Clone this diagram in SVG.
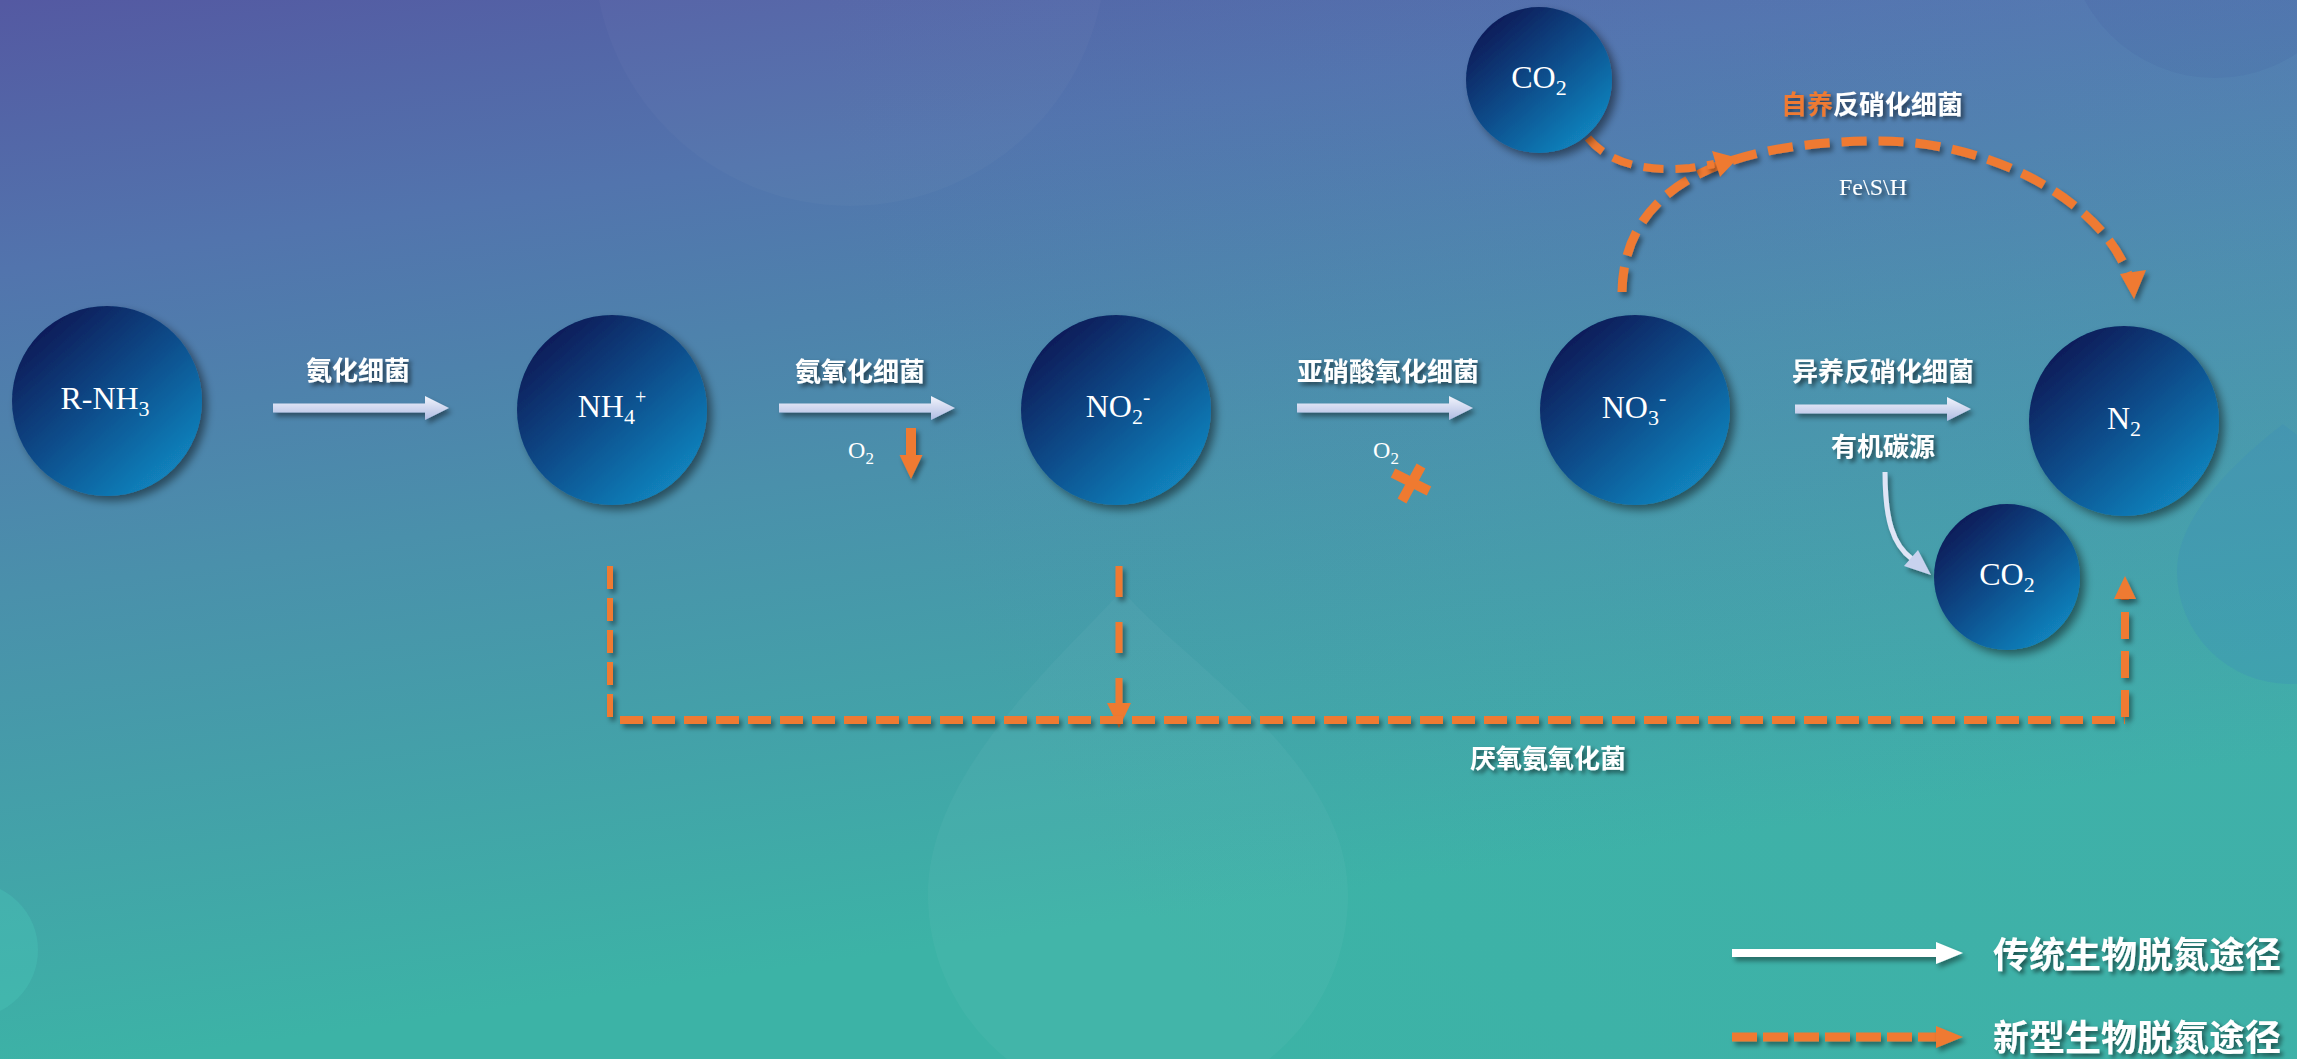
<svg xmlns="http://www.w3.org/2000/svg" width="2297" height="1059" viewBox="0 0 2297 1059">
<defs>
  <linearGradient id="bg" gradientUnits="userSpaceOnUse" x1="0" y1="0" x2="150" y2="1059">
    <stop offset="0" stop-color="#5459a2"/>
    <stop offset="0.25" stop-color="#5274ad"/>
    <stop offset="0.55" stop-color="#4a90ab"/>
    <stop offset="1" stop-color="#3cb3a6"/>
  </linearGradient>
  <radialGradient id="bgR" gradientUnits="userSpaceOnUse" cx="2297" cy="0" r="1500">
    <stop offset="0" stop-color="#6a8ad0" stop-opacity="0.14"/>
    <stop offset="1" stop-color="#6a8ad0" stop-opacity="0"/>
  </radialGradient>
  <linearGradient id="ball" x1="0.15" y1="0.1" x2="0.85" y2="0.9">
    <stop offset="0" stop-color="#071a57"/>
    <stop offset="0.5" stop-color="#0d4e8c"/>
    <stop offset="1" stop-color="#1285bf"/>
  </linearGradient>
  <linearGradient id="light" x1="0" y1="0" x2="0" y2="1">
    <stop offset="0" stop-color="#f2f4fc"/>
    <stop offset="1" stop-color="#aebbe2"/>
  </linearGradient>
  <filter id="sh" x="-20%" y="-20%" width="150%" height="150%">
    <feDropShadow dx="5" dy="5" stdDeviation="4" flood-color="#000" flood-opacity="0.45"/>
  </filter>
  <filter id="tsh" x="-10%" y="-20%" width="130%" height="160%">
    <feDropShadow dx="3" dy="3" stdDeviation="2" flood-color="#000" flood-opacity="0.55"/>
  </filter>
  <filter id="lsh" filterUnits="userSpaceOnUse" x="-2500" y="-1500" width="5000" height="3000">
    <feDropShadow dx="3" dy="4" stdDeviation="2.5" flood-color="#000" flood-opacity="0.4"/>
  </filter>
  <path id="lightArrow" d="M0,-4.5 H152 V-12 L176,0 L152,12 V4.5 H0 Z"/>
  <style>
    .ball { fill: url(#ball); filter: url(#sh); }
    .chem { font-family: "Liberation Serif", "Times New Roman", serif; font-size: 32px; fill: #ffffff; text-anchor: middle; }
    .small { font-family: "Liberation Serif", "Times New Roman", serif; font-size: 24px; fill: #ffffff; text-anchor: middle; }
    .lab { font-family: "Noto Sans CJK SC", sans-serif; font-weight: bold; font-size: 26px; fill: #ffffff; text-anchor: middle; filter: url(#tsh); }
    .leg { font-family: "Noto Sans CJK SC", sans-serif; font-weight: bold; font-size: 36px; fill: #ffffff; filter: url(#tsh); }
    .la { fill: url(#light); filter: url(#lsh); }
    .od { fill: none; stroke: #ef7a30; filter: url(#lsh); }
    .oh { fill: #ef7a30; }
  </style>
</defs>

<!-- background -->
<rect x="0" y="0" width="2297" height="1059" fill="url(#bg)"/>
<rect x="0" y="0" width="2297" height="1059" fill="url(#bgR)"/>
<circle cx="850" cy="-50" r="256" fill="#ffffff" fill-opacity="0.025"/>
<circle cx="2215" cy="-70" r="148" fill="#2a3f8a" fill-opacity="0.07"/>
<circle cx="-30" cy="950" r="68" fill="#48c4b6" fill-opacity="0.4"/>
<path d="M1122,590 C1180,660 1348,760 1348,895 A210,210 0 0 1 928,895 C928,770 1060,660 1122,590 Z" fill="#ffffff" fill-opacity="0.035"/>
<path d="M2283,424 C2300,440 2403,500 2403,571 A113,113 0 0 1 2177,571 C2177,510 2250,450 2283,424 Z" fill="#3a8fb8" fill-opacity="0.3"/>

<!-- connectors -->
<g id="connectors">
  <use href="#lightArrow" class="la" x="273" y="408"/>
  <use href="#lightArrow" class="la" x="779" y="408"/>
  <use href="#lightArrow" class="la" x="1297" y="408"/>
  <use href="#lightArrow" class="la" x="1795" y="409"/>

  <!-- organic carbon to CO2 -->
  <path d="M1885,472 C1885,520 1893,545 1912,559" fill="none" stroke="#dfe5f6" stroke-width="5" filter="url(#lsh)"/>
  <polygon points="1931,575 1904,566 1918,550" fill="#c8d2ee" filter="url(#lsh)"/>

  <!-- O2 consumed arrow -->
  <g filter="url(#lsh)">
    <rect x="906" y="428" width="10" height="28" class="oh"/>
    <polygon points="899.5,455 922.5,455 911,479" class="oh"/>
  </g>
  <!-- O2 X -->
  <g stroke="#ef7a30" stroke-width="10" stroke-linecap="butt">
    <line x1="1393" y1="473" x2="1429" y2="491"/>
    <line x1="1402" y1="501" x2="1421" y2="466"/>
  </g>

  <!-- autotrophic arc NO3- to N2 -->
  <path class="od" d="M1622,292 C1624,160 1780,141 1880,141 C1990,141 2100,200 2128,274" stroke-width="9" stroke-dasharray="25 12"/>
  <polygon class="oh" points="2120,274 2146,270 2134,299" filter="url(#lsh)"/>

  <!-- CO2 to autotrophic -->
  <path class="od" d="M1588,138 C1610,165 1650,172 1690,168 L1714,164" stroke-width="8" stroke-dasharray="20 12"/>
  <polygon class="oh" points="1712,151 1738,158 1720,177"/>

  <!-- anammox -->
  <path class="od" d="M610,566 V717" stroke-width="6" stroke-dasharray="23 9"/>
  <path class="od" d="M1119,566 V704" stroke-width="7" stroke-dasharray="31 25"/>
  <polygon class="oh" points="1107,703 1131,703 1119,728"/>
  <path class="od" d="M620,720 H2125" stroke-width="8" stroke-dasharray="23 9"/>
  <path class="od" d="M2125,717 V598" stroke-width="8" stroke-dasharray="27 12"/>
  <polygon class="oh" points="2114,599 2136,599 2125,576" filter="url(#lsh)"/>

  <!-- legend -->
  <g filter="url(#lsh)">
    <rect x="1732" y="949" width="206" height="8" fill="#ffffff"/>
    <polygon points="1936,942 1963,953 1936,964" fill="#ffffff"/>
  </g>
  <path class="od" d="M1732,1037 H1938" stroke-width="9" stroke-dasharray="25 6"/>
  <polygon class="oh" points="1936,1026 1963,1037 1936,1048" filter="url(#lsh)"/>
</g>

<!-- nodes -->
<g id="node-rnh3">
  <circle cx="107" cy="401" r="95" class="ball"/>
  <text x="105" y="409" class="chem">R-NH<tspan font-size="22" dy="7">3</tspan></text>
</g>
<g id="node-nh4">
  <circle cx="612" cy="410" r="95" class="ball"/>
  <text x="612" y="417" class="chem">NH<tspan font-size="22" dy="7">4</tspan><tspan font-size="20" dy="-20">+</tspan></text>
</g>
<g id="node-no2">
  <circle cx="1116" cy="410" r="95" class="ball"/>
  <text x="1118" y="417" class="chem">NO<tspan font-size="22" dy="7">2</tspan><tspan font-size="22" dy="-20">-</tspan></text>
</g>
<g id="node-no3">
  <circle cx="1635" cy="410" r="95" class="ball"/>
  <text x="1634" y="418" class="chem">NO<tspan font-size="22" dy="7">3</tspan><tspan font-size="22" dy="-20">-</tspan></text>
</g>
<g id="node-n2">
  <circle cx="2124" cy="421" r="95" class="ball"/>
  <text x="2124" y="429" class="chem">N<tspan font-size="22" dy="7">2</tspan></text>
</g>
<g id="node-co2-top">
  <circle cx="1539" cy="80" r="73" class="ball"/>
  <text x="1539" y="88" class="chem">CO<tspan font-size="22" dy="7">2</tspan></text>
</g>
<g id="node-co2-bottom">
  <circle cx="2007" cy="577" r="73" class="ball"/>
  <text x="2007" y="585" class="chem">CO<tspan font-size="22" dy="7">2</tspan></text>
</g>

<!-- labels -->
<g id="labels">
  <text x="358" y="380" class="lab">氨化细菌</text>
  <text x="860" y="381" class="lab">氨氧化细菌</text>
  <text x="1388" y="381" class="lab">亚硝酸氧化细菌</text>
  <text x="1883" y="381" class="lab">异养反硝化细菌</text>
  <text x="1883" y="456" class="lab">有机碳源</text>
  <text x="1872" y="114" class="lab"><tspan fill="#ef7a30">自养</tspan>反硝化细菌</text>
  <text x="1548" y="768" class="lab">厌氧氨氧化菌</text>
  <text x="1873" y="195" class="small" filter="url(#tsh)">Fe\S\H</text>
  <text x="861" y="458" class="small">O<tspan font-size="17" dy="6">2</tspan></text>
  <text x="1386" y="458" class="small">O<tspan font-size="17" dy="6">2</tspan></text>
  <text x="1993" y="968" class="leg">传统生物脱氮途径</text>
  <text x="1993" y="1051" class="leg">新型生物脱氮途径</text>
</g>
</svg>
